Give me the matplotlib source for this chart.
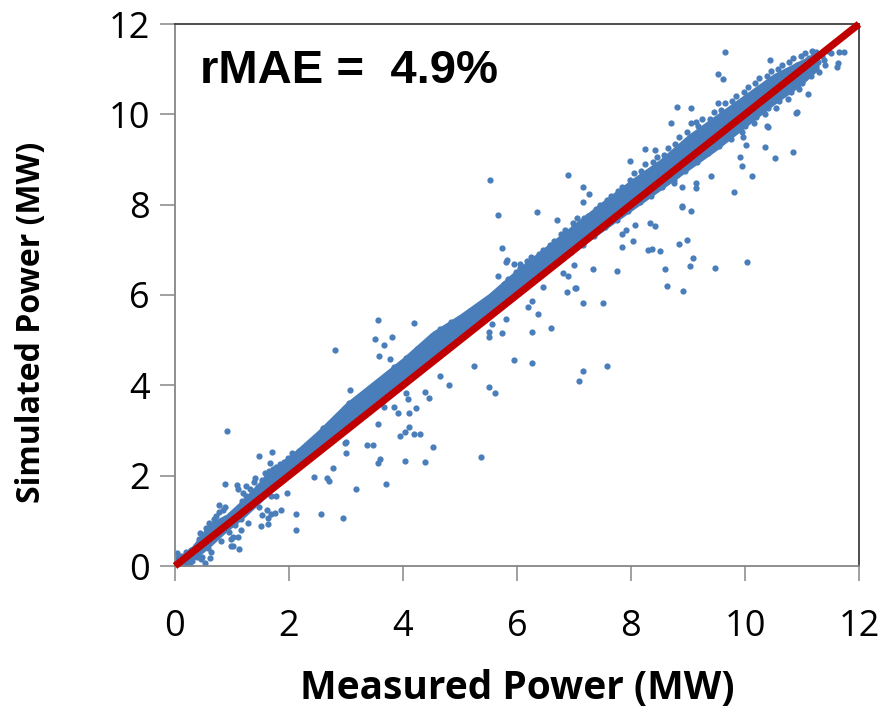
import matplotlib
matplotlib.use("Agg")
import matplotlib.pyplot as plt

# === Data (MW) ===
# dense cloud along the 1:1 line, as (measured, simulated) pairs
band_pts = [
    (0.02,0.05),(0.05,0.18),(0.08,0.02),(0.10,0.22),(0.12,0.10),(0.04,0.28),(0.15,0.00),(0.18,0.15),
    (0.20,0.30),(0.22,0.05),(0.25,0.20),(0.28,0.35),(0.30,0.10),(0.26,0.00),(0.33,0.25),
    (0.36,0.45),(0.40,0.30),(0.42,0.60),(0.45,0.15),(0.47,0.50),(0.38,0.20),(0.44,0.72),
    (0.55,0.85),(0.58,0.40),(0.60,0.95),(0.62,0.60),(0.65,0.75),(0.68,1.05),(0.63,0.30),
    (0.72,1.10),(0.75,0.80),(0.78,1.20),(0.80,0.55),(0.82,1.00),(0.85,1.25),(0.88,0.90),
    (0.92,1.05),(0.95,0.75),(1.00,1.15),(1.02,0.45),(1.05,0.90),(1.08,1.20),(0.98,0.60),
    (1.12,1.30),(1.15,1.05),(1.18,1.45),(1.22,1.20),(1.25,1.55),(1.28,0.95),(1.20,1.62),
    (1.32,1.70),(1.35,1.40),(1.38,1.85),(1.42,1.50),(1.45,1.75),(1.48,1.30),(1.40,1.95),
    (1.52,1.90),(1.55,1.60),(1.58,2.05),(1.62,1.75),(1.65,2.10),(1.68,1.55),(1.60,1.95),
    (1.72,2.15),(1.75,1.85),(1.78,2.20),(1.82,1.95),(1.85,2.25),(1.88,2.05),(1.80,2.10),
    (1.92,2.30),(1.95,2.00),(1.98,2.40),(2.02,2.15),(2.05,2.50),(2.08,2.25),(2.00,2.35),
    (2.12,2.45),(2.15,2.20),(2.18,2.55),(2.22,2.35),(2.25,2.60),(2.28,2.40),(2.20,2.50),
    (2.32,2.60),(2.35,2.40),(2.38,2.75),(2.42,2.55),(2.45,2.80),(2.48,2.65),(2.40,2.45),
    (2.52,2.80),(2.55,2.60),(2.58,2.95),(2.62,2.75),(2.65,3.00),(2.68,2.85),(2.60,3.05),
    (2.72,3.10),(2.75,2.85),(2.78,3.20),(2.82,3.00),(2.85,3.30),(2.88,3.15),(2.80,3.25),
    (2.92,3.35),(2.95,3.10),(2.98,3.50),(3.02,3.25),(3.05,3.60),(3.08,3.40),(3.00,3.45),
    (3.12,3.55),(3.15,3.30),(3.18,3.70),(3.22,3.45),(3.25,3.75),(3.28,3.60),(3.20,3.35),
    (3.32,3.70),(3.35,3.45),(3.38,3.90),(3.42,3.60),(3.45,3.95),(3.48,3.80),(3.40,3.55),
    (3.52,3.85),(3.55,3.65),(3.58,4.05),(3.62,3.80),(3.65,4.10),(3.68,3.95),(3.60,3.75),
    (3.72,4.05),(3.75,3.85),(3.78,4.25),(3.82,4.00),(3.85,4.40),(3.88,4.15),(3.80,4.30),
    (3.92,4.30),(3.95,4.05),(3.98,4.50),(4.02,4.20),(4.05,4.60),(4.08,4.35),(4.00,4.45),
    (4.12,4.50),(4.15,4.25),(4.18,4.70),(4.22,4.40),(4.25,4.80),(4.28,4.60),(4.20,4.65),
    (4.32,4.70),(4.35,4.45),(4.38,4.90),(4.42,4.60),(4.45,5.00),(4.48,4.80),(4.40,4.85),
    (4.52,4.90),(4.55,4.65),(4.58,5.15),(4.62,4.85),(4.65,5.25),(4.68,5.00),(4.60,5.10),
    (4.72,5.10),(4.75,4.85),(4.78,5.30),(4.82,5.05),(4.85,5.40),(4.88,5.20),(4.80,5.25),
    (4.92,5.30),(4.95,5.00),(4.98,5.45),(5.02,5.20),(5.05,5.50),(5.08,5.35),(5.00,5.40),
    (5.12,5.45),(5.15,5.20),(5.18,5.65),(5.22,5.35),(5.25,5.70),(5.28,5.50),(5.20,5.60),
    (5.32,5.65),(5.35,5.40),(5.38,5.80),(5.42,5.55),(5.45,5.85),(5.48,5.70),(5.40,5.75),
    (5.52,5.85),(5.55,5.60),(5.58,6.00),(5.62,5.75),(5.65,6.05),(5.68,5.90),(5.60,5.95),
    (5.72,6.05),(5.75,5.80),(5.78,6.25),(5.82,5.95),(5.85,6.35),(5.88,6.10),(5.80,6.20),
    (5.92,6.30),(5.95,6.00),(5.98,6.50),(6.02,6.15),(6.05,6.60),(6.08,6.40),(6.00,6.45),
    (6.12,6.50),(6.15,6.20),(6.18,6.75),(6.22,6.40),(6.25,6.85),(6.28,6.60),(6.20,6.65),
    (6.32,6.70),(6.35,6.40),(6.38,6.90),(6.42,6.60),(6.45,7.00),(6.48,6.80),(6.40,6.85),
    (6.52,6.90),(6.55,6.60),(6.58,7.10),(6.62,6.80),(6.65,7.20),(6.68,7.00),(6.60,7.05),
    (6.72,7.10),(6.75,6.80),(6.78,7.35),(6.82,7.00),(6.85,7.45),(6.88,7.20),(6.80,7.30),
    (6.92,7.30),(6.95,6.95),(6.98,7.60),(7.02,7.15),(7.05,7.70),(7.08,7.45),(7.00,7.50),
    (7.12,7.50),(7.15,7.10),(7.18,7.70),(7.22,7.30),(7.25,7.75),(7.28,7.60),(7.20,7.40),
    (7.32,7.65),(7.35,7.30),(7.38,7.90),(7.42,7.50),(7.45,8.00),(7.48,7.80),(7.40,7.60),
    (7.52,7.85),(7.55,7.50),(7.58,8.10),(7.62,7.70),(7.65,8.20),(7.68,8.00),(7.60,7.80),
    (7.72,8.05),(7.75,7.65),(7.78,8.30),(7.82,7.90),(7.85,8.40),(7.88,8.15),(7.80,8.00),
    (7.92,8.30),(7.95,7.85),(7.98,8.55),(8.02,8.10),(8.05,8.70),(8.08,8.40),(8.00,8.00),
    (8.12,8.50),(8.15,8.05),(8.18,8.75),(8.22,8.30),(8.25,8.90),(8.28,8.60),(8.20,8.20),
    (8.32,8.70),(8.35,8.20),(8.38,8.95),(8.42,8.50),(8.45,9.05),(8.48,8.80),(8.40,8.35),
    (8.52,8.85),(8.55,8.40),(8.58,9.10),(8.62,8.65),(8.65,9.25),(8.68,9.00),(8.60,8.50),
    (8.72,9.05),(8.75,8.55),(8.78,9.35),(8.82,8.80),(8.85,9.50),(8.88,9.20),(8.80,8.65),
    (8.92,9.30),(8.95,8.75),(8.98,9.60),(9.02,9.00),(9.05,9.80),(9.08,9.45),(9.00,8.85),
    (9.12,9.50),(9.15,8.95),(9.18,9.75),(9.22,9.20),(9.25,9.90),(9.28,9.60),(9.20,9.05),
    (9.32,9.70),(9.35,9.15),(9.38,9.90),(9.42,9.40),(9.45,10.05),(9.48,9.80),(9.40,9.25),
    (9.52,9.85),(9.55,9.30),(9.58,10.10),(9.62,9.60),(9.65,10.25),(9.68,10.00),(9.60,9.45),
    (9.72,10.05),(9.75,9.45),(9.78,10.30),(9.82,9.75),(9.85,10.40),(9.88,10.20),(9.80,9.60),
    (9.92,10.20),(9.95,9.60),(9.98,10.50),(10.02,9.90),(10.05,10.60),(10.08,10.35),(10.00,9.75),
    (10.12,10.40),(10.15,9.80),(10.18,10.70),(10.22,10.10),(10.25,10.80),(10.28,10.55),(10.20,9.95),
    (10.32,10.60),(10.35,10.00),(10.38,10.85),(10.42,10.30),(10.45,10.95),(10.48,10.70),(10.40,10.15),
    (10.52,10.75),(10.55,10.15),(10.58,11.00),(10.62,10.45),(10.65,11.10),(10.68,10.90),(10.60,10.30),
    (10.72,10.95),(10.75,10.35),(10.78,11.15),(10.82,10.60),(10.85,11.25),(10.88,11.05),(10.80,10.50),
    (10.92,11.10),(10.95,10.55),(10.98,11.30),(11.02,10.80),(11.05,11.35),(11.08,11.20),(11.00,10.70),
    (11.12,11.25),(11.15,10.85),(11.18,11.40),(11.22,11.00),(11.25,11.38),(11.28,11.15),(11.20,11.30),
    (11.35,11.30),(11.40,11.10),(11.45,11.40),(11.50,11.35),(11.38,11.20),
]

# scattered points away from the cloud
outlier_pts = [
    (0.92,3.00),(1.47,2.44),(1.71,2.53),(1.66,2.27),(0.88,1.81),(1.08,1.79),(1.11,1.70),(1.25,1.77),
    (0.78,1.35),(0.88,1.30),(1.77,1.55),(1.96,1.62),(1.86,1.25),(1.52,1.13),(1.61,1.25),(1.68,1.15),
    (1.64,1.06),(1.75,1.17),(1.50,0.89),(1.64,0.93),(2.12,1.15),(2.13,0.80),(2.56,1.15),(2.95,1.07),
    (2.44,1.98),(2.66,1.94),(2.71,1.89),(2.78,2.16),(3.00,2.51),(3.00,2.75),(1.15,0.80),(1.11,0.65),
    (0.99,0.45),(1.13,0.38),(1.02,0.65),(0.61,0.17),(0.53,0.06),(0.47,0.21),(3.17,1.70),(3.70,1.81),
    (3.56,2.27),(3.60,2.38),(4.04,2.32),(4.39,2.30),
    (2.81,4.78),(3.56,5.45),(4.19,5.39),(3.50,5.02),(3.80,5.08),(3.67,4.89),(3.58,4.65),(3.77,4.58),
    (3.07,3.90),(4.65,4.21),(4.80,4.00),(4.39,3.86),(4.46,3.71),(4.06,3.82),(4.08,3.70),(4.22,3.49),
    (4.11,3.39),(3.92,3.39),(3.84,3.53),(3.67,3.53),(3.56,3.14),(4.11,3.08),(3.95,2.88),(4.19,2.92),
    (4.29,2.92),(4.04,2.97),(3.36,2.67),(3.48,2.69),(4.53,2.63),(5.25,4.43),(5.50,3.97),(5.61,3.82),
    (2.98,2.73),(5.36,2.41),
    (5.53,8.55),(6.90,8.66),(5.67,7.78),(6.35,7.83),(6.71,7.66),(7.16,8.40),(7.27,8.24),(7.15,8.05),
    (5.74,7.03),(5.81,6.74),(5.94,6.69),(6.05,6.69),(7.34,6.58),(7.75,6.53),(7.84,7.07),(8.04,7.20),
    (8.30,7.00),(6.90,6.42),(6.46,6.18),(6.88,6.06),(7.04,6.15),(6.26,5.87),(6.20,5.73),(7.15,5.82),
    (7.50,5.82),(6.37,5.57),(5.81,5.46),(6.59,5.27),(6.27,5.17),(5.73,5.15),(5.50,5.17),(5.50,5.08),
    (5.56,5.36),(5.82,6.77),(5.67,6.42),(5.94,4.56),(6.27,4.49),
    (8.90,7.95),(9.06,7.87),(8.33,7.59),(8.42,7.53),(8.07,7.56),(7.92,7.44),(7.85,7.35),(8.36,7.01),
    (8.50,6.97),(8.85,7.13),(8.99,7.22),(9.09,6.83),(9.04,6.64),(9.47,6.60),(10.03,6.73),(8.60,6.58),
    (8.64,6.21),(8.92,6.09),(7.00,6.66),(6.81,6.49),(7.02,6.15),(7.58,4.43),(7.15,4.31),(7.08,4.10),
    (9.52,10.89),(9.62,10.78),(8.80,10.17),(9.06,10.13),(8.70,9.80),(9.14,9.82),(9.52,10.26),(8.25,9.23),
    (8.42,9.22),(7.98,8.97),(10.35,9.27),(10.53,9.03),(10.85,9.16),(10.38,9.74),(10.89,10.04),(9.92,9.06),
    (9.95,8.86),(10.13,8.63),(9.81,8.27),(9.40,8.63),(9.14,8.49),(9.14,8.36),(8.75,8.49),(8.89,8.40),
    (8.89,7.98),(10.43,11.20),(11.74,11.39),(11.63,11.14),(11.61,11.05),(11.30,10.94),(11.11,10.46),
    (10.91,10.06),(10.40,9.73),(9.97,9.50),(10.02,9.32),(9.65,11.39),(11.65,11.39),
]

# solid core of the cloud: measured, lower and upper simulated edge
core_x  = [0.05, 0.3, 0.6, 0.9, 1.2, 1.5, 1.8, 2.1, 2.5, 3.0, 3.5, 4.0, 4.5, 5.0,
           5.5, 6.0, 6.5, 7.0, 7.5, 8.0, 8.5, 9.0, 9.5, 10.0, 10.5, 11.0, 11.3]
core_lo = [0.00, 0.10, 0.40, 0.75, 1.05, 1.40, 1.75, 2.05, 2.45, 3.00, 3.50, 4.00, 4.50, 5.00,
           5.45, 5.95, 6.45, 6.95, 7.40, 7.85, 8.30, 8.75, 9.20, 9.70, 10.20, 10.65, 11.00]
core_hi = [0.20, 0.45, 0.95, 1.15, 1.50, 1.90, 2.25, 2.55, 3.00, 3.62, 4.12, 4.62, 5.18, 5.58,
           6.03, 6.58, 7.08, 7.58, 8.08, 8.56, 9.00, 9.55, 10.00, 10.45, 10.90, 11.22, 11.35]

line_x = [0, 12]
ticks = [0, 2, 4, 6, 8, 10, 12]
label_text = 'rMAE =  4.9%'

BLUE = '#4A7EBB'
RED = '#C00000'

measured = [p[0] for p in band_pts + outlier_pts]
simulated = [p[1] for p in band_pts + outlier_pts]

fig = plt.figure(figsize=(8.85, 7.12), dpi=100)
ax = fig.add_axes([175 / 885, 1 - 566 / 712, 684 / 885, 542 / 712])

ax.fill_between(core_x, core_lo, core_hi, color=BLUE, lw=0, zorder=1)
ax.plot(measured, simulated, 'o', color=BLUE, ms=4.5, mew=0, zorder=2)
ax.plot(line_x, line_x, color=RED, lw=5.2, solid_capstyle='butt', zorder=3, clip_on=False)

ax.set_xlim(0, 12)
ax.set_ylim(0, 12)
ax.set_xticks(ticks)
ax.set_yticks(ticks)

for side in ['left', 'bottom']:
    ax.spines[side].set_color('#868686')
    ax.spines[side].set_linewidth(1.3)
for side in ['top', 'right']:
    ax.spines[side].set_color('#404040')
    ax.spines[side].set_linewidth(1.3)

ax.tick_params(axis='both', direction='out', length=11, width=1.1, color='#868686',
               labelsize=26, labelcolor='black')
ax.tick_params(axis='x', pad=20)
ax.tick_params(axis='y', pad=7)
for lab in ax.get_xticklabels() + ax.get_yticklabels():
    lab.set_fontfamily('Open Sans')

ax.set_xlabel('Measured Power (MW)', fontsize=28, fontweight='bold', family='Open Sans')
ax.set_ylabel('Simulated Power (MW)', fontsize=23, fontweight='bold', family='Open Sans')
ax.xaxis.set_label_coords(0.5, -0.19)
ax.yaxis.set_label_coords(-0.185, 0.45)

ax.text(0.037, 0.891, label_text, transform=ax.transAxes, fontsize=34, fontweight='bold',
        family='Liberation Sans', va='baseline', ha='left')

fig.savefig('out.png', dpi=100)
